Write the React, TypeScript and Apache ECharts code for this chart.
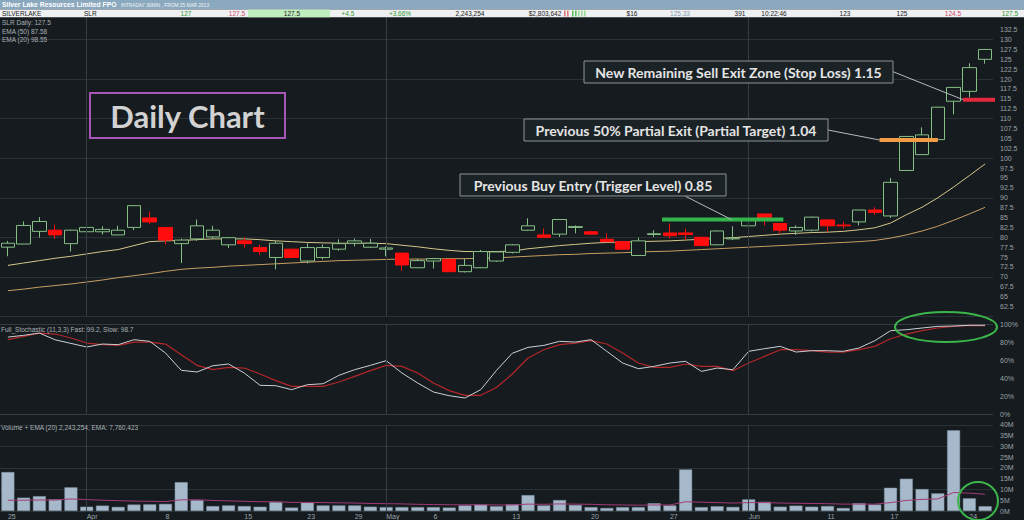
import React, { useEffect, useRef } from "react";
import * as echarts from "echarts";

// ---- x axis (63 trading days, tick labels where the chart shows them) ----
const xLabels = [
  "25", "", "", "", "", "Apr", "", "", "", "", "8", "", "", "", "", "15", "", "", "", "23",
  "", "", "29", "", "May", "", "", "6", "", "", "", "", "13", "", "", "", "", "20", "", "",
  "", "", "27", "", "", "", "", "Jun", "", "", "", "", "11", "", "", "", "17", "", "", "",
  "", "24", "",
];
const monthStartIdx = [5, 24, 47];

// ---- price candles ----
const opens = [
  77.5, 78.3, 81.5, 81.8, 78.4, 81.4, 81.4, 80.6, 82.5, 84.9, 82.5, 78.4, 79.6, 80.1, 78.1, 79.1,
  77.4, 74.9, 77.0, 74.0, 74.9, 77.0, 78.5, 77.5, 77.0, 76.0, 72.3, 74.0, 74.4, 71.3, 72.3, 74.0,
  76.2, 81.8, 80.6, 80.8, 82.5, 81.4, 79.5, 78.9, 75.4, 80.7, 81.1, 81.1, 80.0, 78.1, 79.6, 82.9,
  85.9, 83.5, 81.6, 81.8, 84.4, 83.1, 83.9, 86.9, 85.4, 96.9, 100.9, 104.7, 114.4, 116.9, 125.0,
];
const closes = [
  78.5, 83.0, 84.0, 80.6, 81.8, 82.5, 82.0, 81.8, 88.0, 83.9, 79.3, 79.3, 82.9, 81.8, 79.9, 78.4,
  76.4, 78.5, 74.9, 77.4, 77.4, 78.4, 79.1, 78.5, 77.3, 73.0, 74.1, 74.6, 71.3, 72.9, 76.4, 76.3,
  78.1, 82.9, 80.0, 84.5, 82.7, 80.8, 78.9, 77.0, 79.1, 80.9, 80.4, 80.7, 77.9, 81.6, 79.8, 84.3,
  84.3, 81.8, 82.5, 85.1, 82.9, 82.9, 86.9, 86.3, 93.9, 105.5, 105.9, 112.9, 117.9, 122.9, 127.5,
];
const lows = [
  75.2, 78.3, 79.9, 79.6, 76.4, 80.6, 80.7, 80.5, 81.8, 83.5, 78.2, 73.5, 79.1, 79.6, 77.3, 77.4,
  75.6, 71.9, 74.8, 73.4, 74.4, 76.6, 77.7, 77.3, 75.2, 71.5, 72.3, 72.1, 71.2, 71.1, 72.2, 73.8,
  75.9, 81.6, 79.8, 80.1, 81.0, 80.6, 78.8, 76.9, 75.3, 80.1, 79.7, 79.3, 77.8, 78.0, 79.3, 82.8,
  83.0, 81.0, 80.6, 81.5, 81.4, 82.2, 83.0, 85.7, 84.9, 96.8, 100.8, 104.6, 111.1, 115.4, 123.9,
];
const highs = [
  79.1, 84.0, 85.1, 83.2, 81.9, 84.5, 82.8, 82.9, 88.1, 86.5, 82.6, 79.7, 84.5, 82.9, 80.1, 79.9,
  78.1, 79.1, 77.1, 78.5, 78.2, 79.5, 79.7, 79.6, 77.7, 76.1, 74.6, 74.8, 74.5, 74.6, 76.8, 76.5,
  78.3, 84.8, 82.2, 84.6, 83.0, 81.7, 81.0, 79.1, 79.9, 81.8, 83.5, 82.2, 80.1, 81.7, 82.8, 84.4,
  86.0, 83.6, 83.0, 85.2, 84.5, 83.9, 87.0, 87.6, 95.0, 105.6, 107.8, 113.0, 118.0, 124.0, 127.5,
];
const ema20 = [
  72.9, 73.5, 74.1, 74.7, 75.2, 75.8, 76.4, 76.9, 77.9, 78.9, 79.1, 79.2, 79.4, 79.6, 79.6, 79.6,
  79.4, 79.1, 78.9, 78.7, 78.6, 78.5, 78.5, 78.5, 78.4, 78.0, 77.6, 77.1, 76.7, 76.4, 76.4, 76.4,
  76.5, 77.1, 77.5, 77.9, 78.2, 78.5, 78.7, 78.8, 78.9, 79.0, 79.1, 79.3, 79.5, 79.7, 79.9, 80.2,
  80.5, 80.8, 81.0, 81.2, 81.3, 81.5, 81.9, 82.4, 83.6, 85.7, 87.6, 90.0, 92.7, 95.6, 98.55,
];
const ema50 = [
  66.5, 66.9, 67.4, 67.8, 68.2, 68.7, 69.2, 69.8, 70.3, 70.8, 71.4, 71.9, 72.2, 72.4, 72.7, 72.9,
  73.1, 73.3, 73.5, 73.7, 73.9, 74.1, 74.2, 74.3, 74.4, 74.5, 74.5, 74.5, 74.6, 74.6, 74.7, 74.8,
  75.0, 75.2, 75.4, 75.6, 75.7, 75.9, 76.0, 76.1, 76.3, 76.4, 76.5, 76.7, 76.9, 77.1, 77.3, 77.5,
  77.7, 77.9, 78.1, 78.3, 78.5, 78.7, 78.9, 79.2, 79.8, 80.6, 81.6, 82.8, 84.3, 85.9, 87.58,
];

// ---- trade levels (x in bar index units, y in price) ----
const buyEntry = { from: 41.5, to: 49.2, price: 84.5 };
const partialExit = { from: 55.3, to: 59.0, price: 104.6 };
const stopLoss = { from: 60.6, to: 63.0, price: 114.8 };

// ---- full stochastic (11,3,3) ----
const stochFast = [
  86, 88, 90.5, 83, 79, 75, 78.3, 77.6, 83.1, 81.3, 68.3, 49.1, 47.2, 54.2, 56.1, 46.1,
  32.4, 32.0, 27.6, 33.1, 34.2, 43.5, 49.8, 54.6, 59.8, 46.1, 35.0, 25.0, 20.9, 18.3, 27.6, 49.0,
  68.0, 74.6, 76.8, 81.3, 80.5, 83.1, 70.2, 57.2, 50.9, 53.5, 57.2, 59.1, 47.9, 51.6, 49.8, 70.2,
  73.1, 75.7, 69.4, 70.9, 70.9, 70.2, 73.9, 82.0, 93.1, 94.2, 96.1, 97.9, 98.3, 99.1, 99.2,
];
const stochSlow = [
  83.1, 86.8, 90.5, 89.4, 85.0, 79.4, 77.6, 76.8, 80.5, 80.5, 78.3, 66.5, 54.6, 49.8, 52.4, 51.6,
  45.0, 37.6, 31.3, 31.3, 31.3, 36.1, 42.4, 48.7, 54.6, 53.5, 46.1, 35.0, 26.5, 21.3, 21.3, 30.0,
  45.0, 62.8, 72.0, 77.6, 79.4, 82.0, 78.3, 68.3, 57.2, 52.4, 52.4, 56.1, 53.5, 53.5, 48.7, 57.2,
  64.6, 72.0, 72.0, 70.9, 69.4, 69.4, 72.0, 75.7, 84.2, 89.4, 93.1, 96.1, 97.9, 99.1, 98.7,
];

// ---- volume (millions) + EMA(20) ----
const volumeM = [
  18.1, 6.2, 6.9, 5.4, 11.0, 2.0, 2.5, 1.9, 3.0, 3.1, 3.3, 13.4, 5.1, 2.3, 2.6, 2.3,
  2.0, 4.2, 1.6, 3.9, 2.6, 2.6, 2.6, 2.0, 1.8, 1.8, 1.8, 1.8, 1.6, 2.6, 3.0, 2.2,
  3.1, 7.4, 2.6, 5.1, 2.8, 1.8, 1.4, 1.8, 1.8, 3.6, 2.6, 19.3, 1.8, 2.2, 1.9, 5.4,
  4.3, 2.0, 2.5, 2.0, 2.3, 1.4, 3.6, 3.0, 10.8, 15.0, 10.2, 8.2, 37.5, 5.9, 2.24,
];
const volumeEma = [
  5.0, 5.0, 5.1, 5.1, 5.6, 5.3, 5.0, 4.8, 4.6, 4.5, 4.4, 5.2, 5.2, 4.9, 4.7, 4.5,
  4.3, 4.3, 4.0, 4.0, 3.9, 3.8, 3.7, 3.5, 3.4, 3.3, 3.1, 3.0, 2.9, 2.9, 2.9, 2.8,
  2.8, 3.2, 3.1, 3.3, 3.2, 3.1, 2.9, 2.8, 2.7, 2.8, 2.8, 4.3, 4.1, 3.9, 3.7, 3.9,
  3.9, 3.7, 3.6, 3.5, 3.4, 3.2, 3.2, 3.2, 3.9, 4.9, 5.4, 5.6, 8.6, 8.3, 7.76,
];

// ---- header quote row ----
const quoteRow: { text: string; x: number; color: string; align: string }[] = [
  { text: "SILVERLAKE", x: 2, color: "#222", align: "left" },
  { text: "SLR", x: 84, color: "#222", align: "left" },
  { text: "127", x: 186, color: "#2f9a2f", align: "center" },
  { text: "127.5", x: 237, color: "#d04a6a", align: "center" },
  { text: "127.5", x: 292, color: "#222", align: "center" },
  { text: "+4.5", x: 348, color: "#2f9a2f", align: "center" },
  { text: "+3.66%", x: 400, color: "#2f9a2f", align: "center" },
  { text: "2,243,254", x: 470, color: "#222", align: "center" },
  { text: "$2,803,642", x: 545, color: "#222", align: "center" },
  { text: "$16", x: 632, color: "#222", align: "center" },
  { text: "125.33", x: 680, color: "#8a9aaa", align: "center" },
  { text: "391", x: 740, color: "#222", align: "center" },
  { text: "10:22:46", x: 774, color: "#222", align: "center" },
  { text: "123", x: 845, color: "#222", align: "center" },
  { text: "125", x: 902, color: "#222", align: "center" },
  { text: "124.5", x: 953, color: "#d04a6a", align: "center" },
  { text: "127.5", x: 1010, color: "#2f9a2f", align: "center" },
];

const BG = "#151b1e";
const GRID = "#2a3236";
const AX = "#9aa3a9";
const FONT = "Liberation Sans";

function App() {
  const ref = useRef<HTMLDivElement>(null);
  useEffect(() => {
    if (!ref.current) return;
    const chart = echarts.init(ref.current, undefined, { renderer: "svg" });
    const candleData = opens.map((o, i) => [o, closes[i], lows[i], highs[i]]);
    const n = xLabels.length;
    const catAxis = (gridIndex: number, labels: boolean) => ({
      type: "category",
      gridIndex,
      data: xLabels,
      boundaryGap: true,
      position: "bottom",
      axisLine: { show: false },
      axisTick: { show: false },
      splitLine: { show: false },
      axisLabel: labels
        ? { show: true, interval: 0, align: "left", margin: 2, fontSize: 7, color: AX, fontFamily: FONT }
        : { show: false },
    });
    const yLab = (fmt: (v: number) => string) => ({
      show: true, inside: false, margin: 7, fontSize: 7, color: AX, fontFamily: FONT, formatter: fmt,
    });
    const monthLines = {
      silent: true,
      symbol: "none",
      label: { show: false },
      lineStyle: { color: "#353f43", type: "solid", width: 1 },
      data: monthStartIdx.map((i) => ({ xAxis: i })),
    };
    const levelSeries = (lv: { from: number; to: number; price: number }, color: string) => ({
      type: "line",
      xAxisIndex: 3,
      yAxisIndex: 0,
      data: [[lv.from, lv.price], [lv.to, lv.price]],
      symbol: "none",
      clip: false,
      z: 5,
      lineStyle: { color, width: 4 },
    });

    const option: any = {
      animation: false,
      backgroundColor: BG,
      grid: [
        { left: 0, width: 993, top: -6.8, height: 323.2 },
        { left: 0, width: 993, top: 324.5, height: 90 },
        { left: 0, width: 993, top: 424.9, height: 86.8 },
      ],
      xAxis: [
        catAxis(0, false),
        catAxis(1, false),
        catAxis(2, true),
        { type: "value", gridIndex: 0, min: -0.5, max: n - 0.5, show: false, position: "bottom" },
      ],
      yAxis: [
        {
          type: "value", gridIndex: 0, position: "right", min: 60, max: 140, interval: 2.5,
          axisLine: { show: false }, axisTick: { show: false }, splitLine: { show: false },
          axisLabel: yLab((v: number) => (v >= 62.5 && v <= 132.5 ? String(v) : "")),
        },
        {
          type: "value", gridIndex: 0, position: "right", min: 60, max: 140, interval: 10,
          axisLine: { show: false }, axisTick: { show: false }, axisLabel: { show: false },
          splitLine: { show: true, lineStyle: { color: GRID, width: 1 } },
        },
        {
          type: "value", gridIndex: 1, position: "right", min: 0, max: 100, interval: 20,
          axisLine: { show: false }, axisTick: { show: false }, splitLine: { show: false },
          axisLabel: yLab((v: number) => v + "%"),
        },
        {
          type: "value", gridIndex: 1, position: "right", min: 0, max: 100, interval: 100,
          axisLine: { show: false }, axisTick: { show: false }, axisLabel: { show: false },
          splitLine: { show: true, lineStyle: { color: "#323b40", width: 1 } },
        },
        {
          type: "value", gridIndex: 2, position: "right", min: 0, max: 40, interval: 5,
          axisLine: { show: false }, axisTick: { show: false }, splitLine: { show: false },
          axisLabel: yLab((v: number) => v + "M"),
        },
        {
          type: "value", gridIndex: 2, position: "right", min: 0, max: 40, interval: 10,
          axisLine: { show: false }, axisTick: { show: false }, axisLabel: { show: false },
          splitLine: { show: true, lineStyle: { color: GRID, width: 1 } },
        },
      ],
      series: [
        {
          type: "candlestick",
          xAxisIndex: 0,
          yAxisIndex: 0,
          data: candleData,
          barWidth: 14,
          z: 3,
          itemStyle: {
            color: BG,
            borderColor: "#86bf86",
            color0: "#ff0d0d",
            borderColor0: "#ff0d0d",
            borderWidth: 1,
          },
          markLine: monthLines,
        },
        {
          type: "line", xAxisIndex: 0, yAxisIndex: 0, data: ema20, symbol: "none", z: 2,
          lineStyle: { color: "#d6c78c", width: 1 },
        },
        {
          type: "line", xAxisIndex: 0, yAxisIndex: 0, data: ema50, symbol: "none", z: 2,
          lineStyle: { color: "#c99e62", width: 1 },
        },
        levelSeries(buyEntry, "#33b44c"),
        levelSeries(partialExit, "#f39a45"),
        levelSeries(stopLoss, "#e42a3c"),
        {
          type: "line", xAxisIndex: 1, yAxisIndex: 2, data: stochSlow, symbol: "none",
          lineStyle: { color: "#b3262a", width: 1.2 }, markLine: monthLines,
        },
        {
          type: "line", xAxisIndex: 1, yAxisIndex: 2, data: stochFast, symbol: "none",
          lineStyle: { color: "#c9cfd4", width: 1 },
        },
        {
          type: "bar", xAxisIndex: 2, yAxisIndex: 4, data: volumeM, barWidth: 13,
          itemStyle: { color: "#a6b9cb", borderColor: "#7d90a2", borderWidth: 0.5 },
          markLine: monthLines,
        },
        {
          type: "line", xAxisIndex: 2, yAxisIndex: 4, data: volumeEma, symbol: "none", z: 4,
          lineStyle: { color: "#a23a76", width: 1 },
        },
      ],
    };
    chart.setOption(option);

    const px = (x: number, y: number) =>
      chart.convertToPixel({ xAxisIndex: 3, yAxisIndex: 0 } as any, [x, y]) as number[];
    const pStop = px(stopLoss.from, stopLoss.price);
    const pPart = px(partialExit.from, partialExit.price);
    const pBuy = px(45.9, buyEntry.price);

    const txt = (text: string, x: number, y: number, font: string, fill: string, align = "left", z = 100) => ({
      type: "text", x, y, z,
      style: { text, font, fill, align, verticalAlign: "middle", textAlign: align, textVerticalAlign: "middle" },
    });
    const boxed = (text: string, x: number, y: number, w: number, h: number) => [
      { type: "rect", z: 90, shape: { x, y, width: w, height: h }, style: { fill: "#1b2226", stroke: "#8e959a", lineWidth: 1 } },
      txt(text, x + w / 2, y + h / 2 + 0.5, "bold 14px Lato", "#e4e4e4", "center", 91),
    ];
    const line = (x1: number, y1: number, x2: number, y2: number) => ({
      type: "line", z: 89, shape: { x1, y1, x2, y2 }, style: { stroke: "#b4b9bd", lineWidth: 1 },
    });
    const miniBars = [
      { x: 564, c: "#e07a7a" }, { x: 567, c: "#e07a7a" }, { x: 572, c: "#5cbf5c" },
      { x: 575, c: "#5cbf5c" }, { x: 578, c: "#9ad99a" }, { x: 581, c: "#9ad99a" }, { x: 584, c: "#9ad99a" },
    ];

    const graphic: any[] = [
      // header
      { type: "rect", z: 100, shape: { x: 0, y: 0, width: 1024, height: 9.5 }, style: { fill: "#8aa8be" } },
      txt("Silver Lake Resources Limited FPO", 2, 4.9, "bold 6.8px " + FONT, "#ffffff"),
      txt("INTRADAY 30MIN , FROM 25 MAR 2013", 121, 5.2, "4.8px " + FONT, "#f2f6f9"),
      { type: "rect", z: 100, shape: { x: 0, y: 9.5, width: 1024, height: 7.8 }, style: { fill: "#eef0f2" } },
      { type: "rect", z: 100, shape: { x: 248, y: 9.5, width: 82, height: 7.8 }, style: { fill: "#bfeebf" } },
      ...miniBars.map((b) => ({
        type: "rect", z: 101, shape: { x: b.x, y: 10.5, width: 1.6, height: 6 }, style: { fill: b.c },
      })),
      ...quoteRow.map((q) => txt(q.text, q.x, 13.6, "6.5px " + FONT, q.color, q.align, 101)),
      // panel legends
      txt("SLR Daily: 127.5", 2, 22.5, "6.5px " + FONT, "#aab2b8"),
      txt("EMA (50) 87.58", 2, 31, "6.5px " + FONT, "#aab2b8"),
      txt("EMA (20) 98.55", 2, 39.5, "6.5px " + FONT, "#aab2b8"),
      txt("Full_Stochastic (11,3,3) Fast: 99.2, Slow: 98.7", 1, 329, "6.5px " + FONT, "#aab2b8"),
      txt("Volume + EMA (20) 2,243,254, EMA: 7,760,423", 1, 427.5, "6.5px " + FONT, "#aab2b8"),
      // title box
      { type: "rect", z: 90, shape: { x: 90, y: 93, width: 195, height: 45 }, style: { fill: "none", stroke: "#a556b6", lineWidth: 2 } },
      txt("Daily Chart", 187.5, 116, "bold 31px Lato", "#d2d2d2", "center", 91),
      // annotations
      ...boxed("New Remaining Sell Exit Zone (Stop Loss) 1.15", 584, 61, 309, 22),
      line(893, 71.7, pStop[0], pStop[1]),
      ...boxed("Previous 50% Partial Exit (Partial Target) 1.04", 524, 119, 304, 22),
      line(828, 130, pPart[0], pPart[1]),
      ...boxed("Previous Buy Entry (Trigger Level) 0.85", 460, 174, 266, 22),
      line(685, 196, pBuy[0], pBuy[1]),
      // highlight ellipses
      { type: "ellipse", z: 95, shape: { cx: 946, cy: 327, rx: 51, ry: 15 }, style: { fill: "none", stroke: "#3cb54b", lineWidth: 2 } },
      { type: "ellipse", z: 95, shape: { cx: 978, cy: 501, rx: 20, ry: 19 }, style: { fill: "none", stroke: "#3cb54b", lineWidth: 2 } },
    ];
    chart.setOption({ graphic });

    return () => chart.dispose();
  }, []);
  return <div ref={ref} style={{ position: "fixed", left: 0, top: 0, width: 1024, height: 520 }} />;
}

export default App;
